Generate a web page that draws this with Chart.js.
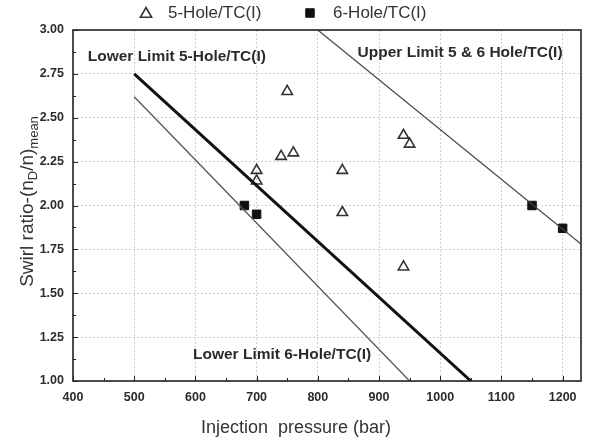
<!DOCTYPE html>
<html>
<head>
<meta charset="utf-8">
<script src="https://cdn.jsdelivr.net/npm/chart.js@4.4.0/dist/chart.umd.min.js"></script>
<style>
  html, body { margin: 0; padding: 0; background: #fff; }
  canvas { display: block; }
</style>
</head>
<body>
<canvas id="swirlChart" width="590" height="439"></canvas>
<script>
// values
const fiveHolePressure = [700, 700, 740, 750, 760, 840, 840, 940, 950, 940];
const fiveHoleSwirl = [2.20, 2.14, 2.28, 2.65, 2.30, 2.20, 1.96, 2.40, 2.35, 1.65];
const sixHolePressure = [680, 700, 1150, 1200];
const sixHoleSwirl = [2.00, 1.95, 2.00, 1.87];

const lower5Pressure = [500, 1050];
const lower5Swirl = [2.75, 1.00];
const lower6Pressure = [500, 950];
const lower6Swirl = [2.62, 1.00];
const upperPressure = [800, 1230];
const upperSwirl = [3.00, 1.78];

const seriesNames = ['5-Hole/TC(I)', '6-Hole/TC(I)'];
const noteTexts = ['Lower Limit 5-Hole/TC(I)', 'Upper Limit 5 & 6 Hole/TC(I)', 'Lower Limit 6-Hole/TC(I)'];
const xTickValues = [400, 500, 600, 700, 800, 900, 1000, 1100, 1200];
const yTickValues = [1.00, 1.25, 1.50, 1.75, 2.00, 2.25, 2.50, 2.75, 3.00];

const toPoints = (xs, ys) => xs.map((v, i) => ({ x: v, y: ys[i] }));
const TXT = '#2b2b2b';
const FONT = '"Liberation Sans", Arial, sans-serif';

// frame, inward ticks, axis titles, legend and notes
const decorations = {
    id: 'decorations',
    afterDraw(chart) {
        const { ctx, chartArea: { top, bottom, left, right }, scales: { x, y } } = chart;
        ctx.save();

        // minor + major ticks pointing inward (bottom and left only)
        ctx.strokeStyle = '#222';
        ctx.lineWidth = 1;
        ctx.beginPath();
        xTickValues.forEach(v => {
            let px = Math.round(x.getPixelForValue(v)) + 0.5;
            ctx.moveTo(px, bottom); ctx.lineTo(px, bottom - 5);
            px = Math.round(x.getPixelForValue(v + 50)) + 0.5;
            if (px < right) { ctx.moveTo(px, bottom); ctx.lineTo(px, bottom - 3); }
        });
        yTickValues.forEach(v => {
            let py = Math.round(y.getPixelForValue(v)) + 0.5;
            ctx.moveTo(left, py); ctx.lineTo(left + 5, py);
            py = Math.round(y.getPixelForValue(v + 0.125)) + 0.5;
            if (py > top) { ctx.moveTo(left, py); ctx.lineTo(left + 3, py); }
        });
        ctx.stroke();

        // frame
        ctx.lineWidth = 1.6;
        ctx.strokeRect(left, top, right - left, bottom - top);

        // notes on the plot
        ctx.fillStyle = TXT;
        ctx.font = 'bold 15.5px ' + FONT;
        ctx.textBaseline = 'middle';
        ctx.textAlign = 'left';
        ctx.fillText(noteTexts[0], x.getPixelForValue(424), y.getPixelForValue(2.846));
        ctx.fillText(noteTexts[1], x.getPixelForValue(865), y.getPixelForValue(2.87));
        ctx.fillText(noteTexts[2], x.getPixelForValue(596), y.getPixelForValue(1.15));

        // x title
        ctx.font = '18px ' + FONT;
        ctx.textAlign = 'center';
        ctx.fillStyle = '#333';
        ctx.fillText('Injection  pressure (bar)', 296, 428);

        // y title with subscripts
        ctx.save();
        ctx.translate(33, (top + bottom) / 2 - 4);
        ctx.rotate(-Math.PI / 2);
        ctx.textAlign = 'left';
        ctx.textBaseline = 'alphabetic';
        const parts = [['Swirl ratio-(n', 19, 0], ['D', 13, 4], ['/n)', 19, 0], ['mean', 13, 5]];
        let total = 0;
        parts.forEach(p => { ctx.font = p[1] + 'px ' + FONT; total += ctx.measureText(p[0]).width; });
        let cx = -total / 2;
        parts.forEach(p => {
            ctx.font = p[1] + 'px ' + FONT;
            ctx.fillText(p[0], cx, p[2]);
            cx += ctx.measureText(p[0]).width;
        });
        ctx.restore();

        // legend
        ctx.font = '17px ' + FONT;
        ctx.textAlign = 'left';
        ctx.textBaseline = 'middle';
        ctx.lineWidth = 1.6;
        ctx.strokeStyle = '#333';
        ctx.fillStyle = '#fff';
        Chart.helpers.drawPoint(ctx, { pointStyle: 'triangle', radius: 6.5, borderWidth: 1.6, rotation: 0 }, 146, 14);
        ctx.fillStyle = '#111';
        ctx.strokeStyle = '#111';
        ctx.lineWidth = 1;
        Chart.helpers.drawPoint(ctx, { pointStyle: 'rect', radius: 6, borderWidth: 1, rotation: 0 }, 310, 13);
        ctx.fillStyle = '#333';
        ctx.fillText(seriesNames[0], 168, 13);
        ctx.fillText(seriesNames[1], 333, 13);

        ctx.restore();
    }
};

const config = {
    type: 'scatter',
    data: {
        datasets: [
            {
                label: 'Lower Limit 5-Hole/TC(I)',
                data: toPoints(lower5Pressure, lower5Swirl),
                showLine: true, borderColor: '#111', borderWidth: 3,
                pointRadius: 0, fill: false
            },
            {
                label: 'Lower Limit 6-Hole/TC(I)',
                data: toPoints(lower6Pressure, lower6Swirl),
                showLine: true, borderColor: '#555', borderWidth: 1.3,
                pointRadius: 0, fill: false
            },
            {
                label: 'Upper Limit 5 & 6 Hole/TC(I)',
                data: toPoints(upperPressure, upperSwirl),
                showLine: true, borderColor: '#444', borderWidth: 1.2,
                pointRadius: 0, fill: false
            },
            {
                label: seriesNames[0],
                data: toPoints(fiveHolePressure, fiveHoleSwirl),
                pointStyle: 'triangle', pointRadius: 6, pointBorderWidth: 1.6,
                pointBorderColor: '#333', pointBackgroundColor: 'rgba(255,255,255,0)'
            },
            {
                label: seriesNames[1],
                data: toPoints(sixHolePressure, sixHoleSwirl),
                pointStyle: 'rect', pointRadius: 6, pointBorderWidth: 1,
                pointBorderColor: '#111', pointBackgroundColor: '#111'
            }
        ]
    },
    options: {
        responsive: false,
        animation: false,
        devicePixelRatio: 1,
        layout: { padding: { top: 30, right: 9, left: 0, bottom: 0 } },
        plugins: {
            legend: { display: false },
            tooltip: { enabled: false }
        },
        scales: {
            x: {
                type: 'linear',
                min: 400,
                max: 1230,
                afterBuildTicks: s => { s.ticks = xTickValues.map(v => ({ value: v })); },
                afterFit: s => { s.height = 58; },
                grid: { color: '#cfcfcf', lineWidth: 1, drawTicks: false },
                border: { display: false, dash: [2, 2] },
                ticks: {
                    padding: 9,
                    color: TXT,
                    maxRotation: 0,
                    callback: v => String(v),
                    font: { family: FONT, size: 12.5, weight: 'bold' }
                }
            },
            y: {
                type: 'linear',
                min: 1,
                max: 3,
                afterBuildTicks: s => { s.ticks = yTickValues.map(v => ({ value: v })); },
                afterFit: s => { s.width = 73; },
                grid: { color: '#cfcfcf', lineWidth: 1, drawTicks: false },
                border: { display: false, dash: [2, 2] },
                ticks: {
                    padding: 9,
                    color: TXT,
                    callback: v => Number(v).toFixed(2),
                    font: { family: FONT, size: 12.5, weight: 'bold' }
                }
            }
        }
    },
    plugins: [decorations]
};

const swirlChart = new Chart(document.getElementById('swirlChart').getContext('2d'), config);
</script>
</body>
</html>
